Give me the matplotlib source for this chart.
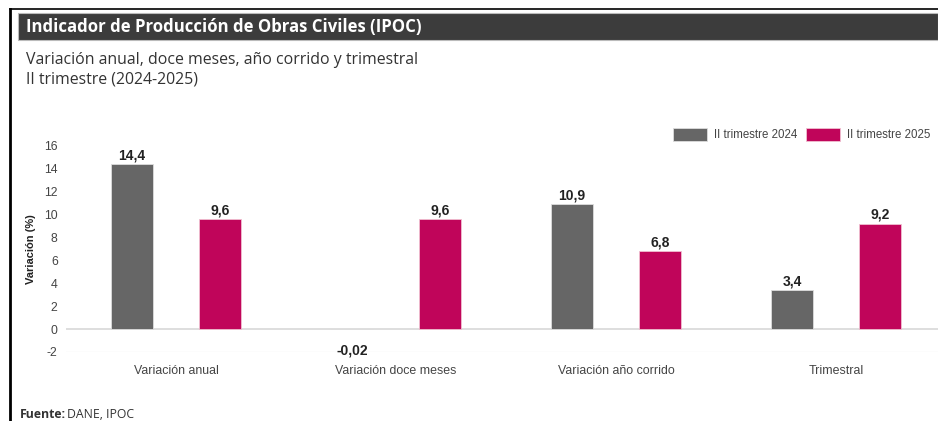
import matplotlib.pyplot as plt
from matplotlib.patches import Rectangle
from matplotlib.lines import Line2D
import numpy as np

# datos
categorias = ["Variación anual", "Variación doce meses", "Variación año corrido", "Trimestral"]
serie_2024 = [14.4, -0.02, 10.9, 3.4]
serie_2025 = [9.6, 9.6, 6.8, 9.2]
series = ["II trimestre 2024", "II trimestre 2025"]
y_ticks = [-2, 0, 2, 4, 6, 8, 10, 12, 14, 16]

gris = "#666666"
fucsia = "#c0055a"

W, H = 938, 421
fig = plt.figure(figsize=(W / 100, H / 100), dpi=100)
fig.patch.set_facecolor("white")

def fx(px):
    return px / W

def fy(py):
    return 1 - py / H

# marco y encabezado
fig.add_artist(Line2D([fx(10), fx(10)], [fy(9), 0], color="black", lw=2))
fig.add_artist(Line2D([fx(10), 1], [fy(9), fy(9)], color="black", lw=1.2))
fig.add_artist(Rectangle((fx(18), fy(40)), 1 - fx(18), (40 - 13) / H,
                         facecolor="#3c3c3c", edgecolor="#bbbbbb", lw=0.8))
fig.text(fx(26), fy(27), "Indicador de Producción de Obras Civiles (IPOC)",
         color="white", fontsize=12.1, fontweight="bold", family="Open Sans", va="center")
fig.text(fx(26), fy(60), "Variación anual, doce meses, año corrido y trimestral",
         color="#333333", fontsize=11.4, family="Open Sans", va="center")
fig.text(fx(26), fy(80), "II trimestre (2024-2025)",
         color="#333333", fontsize=11.4, family="Open Sans", va="center")
fig.text(fx(20), fy(414), "Fuente:", color="#333333", fontsize=8.8,
         fontweight="bold", family="Open Sans", va="center")
fig.text(fx(67), fy(414), "DANE, IPOC", color="#333333", fontsize=8.8,
         family="Open Sans", va="center")

# ejes
ax = fig.add_axes([fx(66), fy(352), 880 / W, (352 - 146) / H])
x = np.arange(len(categorias))
ancho = 0.19
off = 0.2
b1 = ax.bar(x - off, serie_2024, ancho, color=gris, edgecolor="#dddddd", lw=0.6, label=series[0])
b2 = ax.bar(x + off, serie_2025, ancho, color=fucsia, edgecolor="#f0c0d0", lw=0.6, label=series[1])

def fmt(v):
    return f"{v:.2f}".replace(".", ",") if abs(v) < 0.1 else f"{v:.1f}".replace(".", ",")

for bars in (b1, b2):
    for r in bars:
        v = r.get_height()
        xc = r.get_x() + r.get_width() / 2
        if v >= 0:
            ax.annotate(fmt(v), (xc, v), xytext=(0, 1.5), textcoords="offset points",
                        ha="center", va="bottom", fontsize=10, fontweight="bold",
                        color="#222222", family="Liberation Sans")
        else:
            ax.annotate(fmt(v), (xc, v), xytext=(0, -10), textcoords="offset points",
                        ha="center", va="top", fontsize=10, fontweight="bold",
                        color="#222222", family="Liberation Sans")

ax.set_xlim(-0.5, 3.5)
ax.set_ylim(-2, 16)
ax.set_yticks(y_ticks)
ax.set_yticklabels([str(t) for t in y_ticks], fontsize=8.8, color="#444444", family="Liberation Sans")
ax.set_xticks(x)
ax.set_xticklabels(categorias, fontsize=8.9, color="#444444", family="Liberation Sans")
ax.tick_params(axis="both", length=0)
ax.tick_params(axis="x", pad=9)
ax.tick_params(axis="y", pad=6)
ax.axhline(0, color="#d8d8d8", lw=1.2, zorder=0)
ax.axhline(-2, color="#f0f0f0", lw=1, zorder=0)
for s in ax.spines.values():
    s.set_visible(False)
ax.set_ylabel("Variación (%)", fontsize=8, fontweight="bold", color="#222222",
              family="Liberation Sans", labelpad=6)

leg = ax.legend(loc="lower left", bbox_to_anchor=((668 - 66) / 880, 1.0),
                ncol=2, frameon=False, handlelength=3.0, handleheight=1.3,
                columnspacing=0.7, handletextpad=0.6, borderaxespad=0,
                prop={"family": "Liberation Sans", "size": 8.3})
for t in leg.get_texts():
    t.set_color("#444444")

fig.savefig("out.png", dpi=100)
